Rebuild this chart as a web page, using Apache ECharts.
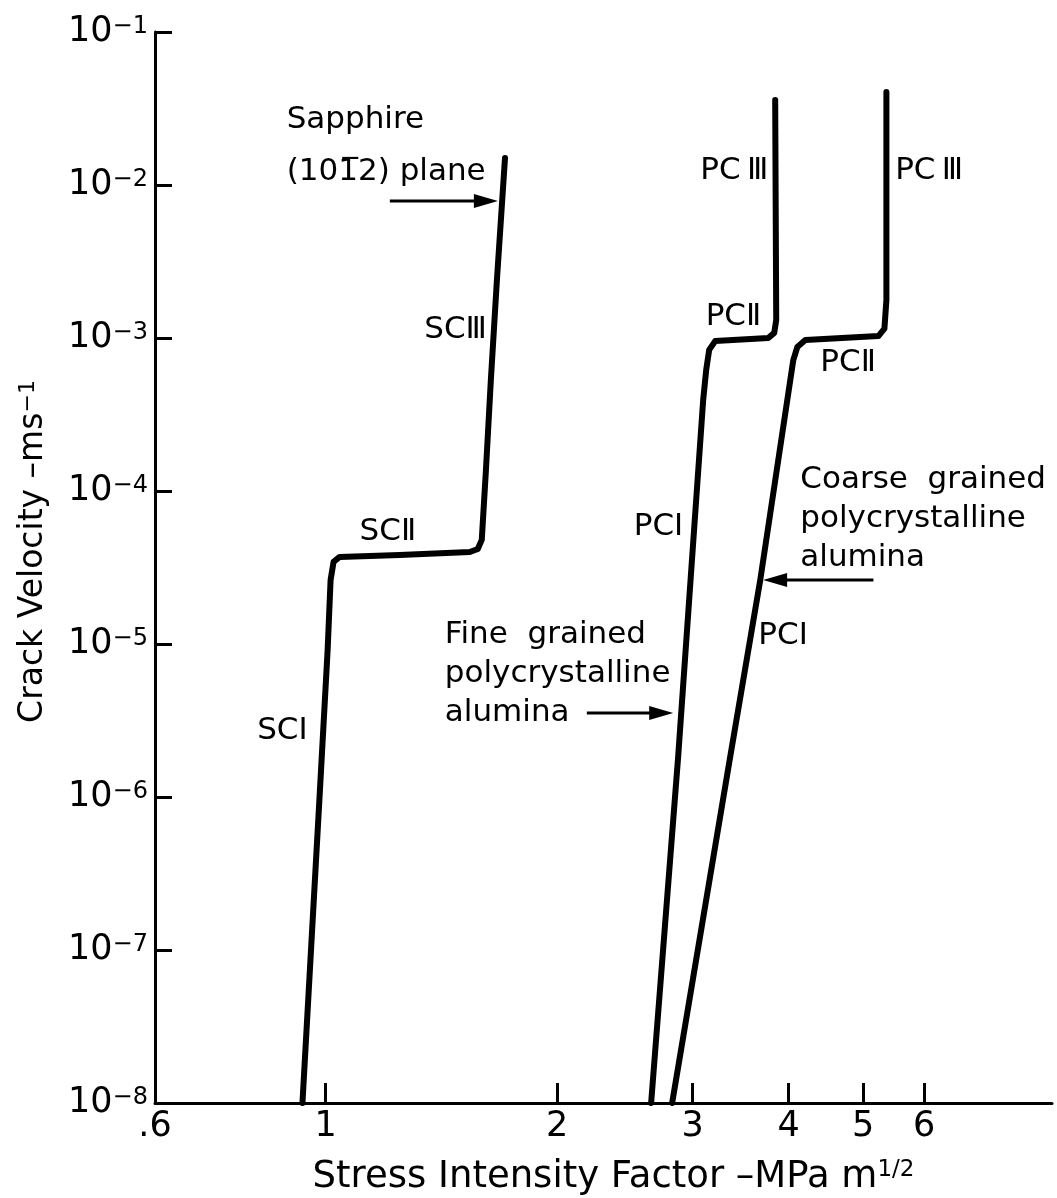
<!DOCTYPE html>
<html>
<head>
<meta charset="utf-8">
<script src="https://cdn.jsdelivr.net/npm/echarts@6/dist/echarts.min.js"></script>
<style>
  html, body { margin: 0; padding: 0; background: #fff; }
  #chart { width: 1057px; height: 1198px; }
</style>
</head>
<body>
<div id="chart"></div>
<script>
const FONT = "'DejaVu Sans', 'Liberation Sans', sans-serif";

// Crack velocity (m/s) against stress intensity factor (MPa m^1/2)
// Sapphire, (10-12) plane
const sapphireK = [0.933, 0.982, 1.006, 1.015, 1.024, 1.043, 1.248, 1.540, 1.577, 1.596, 1.616, 1.640, 1.670, 1.711];
const sapphireV = [1e-8, 1e-6, 9.1e-6, 2.62e-5, 3.44e-5, 3.71e-5, 3.82e-5, 3.99e-5, 4.18e-5, 4.79e-5, 1.37e-4, 5.31e-4, 2.39e-3, 1.5e-2];
// Fine grained polycrystalline alumina
const fineK = [2.650, 2.873, 3.097, 3.125, 3.153, 3.210, 3.763, 3.831, 3.854, 3.842];
const fineV = [1e-8, 1.82e-6, 3.94e-4, 6.18e-4, 8.36e-4, 9.55e-4, 1.0e-3, 1.08e-3, 1.31e-3, 3.6e-2];
// Coarse grained polycrystalline alumina
const coarseK = [2.822, 3.357, 3.674, 3.984, 4.056, 4.105, 4.205, 5.233, 5.328, 5.36, 5.36];
const coarseV = [1e-8, 1.82e-6, 2.62e-5, 3.94e-4, 7.18e-4, 8.73e-4, 9.7e-4, 1.03e-3, 1.15e-3, 1.77e-3, 4.06e-2];

// Axis ticks and labels
const xTickValues = [1, 2, 3, 4, 5, 6];
const xLabelValues = [0.6, 1, 2, 3, 4, 5, 6];
const xLabelText = ['.6', '1', '2', '3', '4', '5', '6'];
const yTickValues = [1e-8, 1e-7, 1e-6, 1e-5, 1e-4, 1e-3, 1e-2, 1e-1];

// Region labels placed in data space [K, v]
const regionLabels = [
  { text: 'Sapphire', at: [0.890, 2.66e-2], align: 'left' },
  { text: '(101\u03052) plane', at: [0.890, 1.22e-2], align: 'left' },
  { text: 'SC\u2162', at: [1.621, 1.13e-3], align: 'right' },
  { text: 'SC\u2161', at: [1.107, 5.4e-5], align: 'left' },
  { text: 'SC\u2160', at: [0.9475, 2.7e-6], align: 'right' },
  { text: 'PC\u2009\u2162', at: [3.763, 1.24e-2], align: 'right' },
  { text: 'PC\u2161', at: [3.685, 1.37e-3], align: 'right' },
  { text: 'PC\u2160', at: [2.917, 5.82e-5], align: 'right' },
  { text: 'PC\u2009\u2162', at: [5.502, 1.24e-2], align: 'left' },
  { text: 'PC\u2161', at: [4.398, 6.87e-4], align: 'left' },
  { text: 'PC\u2160', at: [3.653, 1.13e-5], align: 'left' },
  { text: 'Coarse  grained\npolycrystalline\nalumina', at: [4.142, 6.56e-5], align: 'left' },
  { text: 'Fine  grained\npolycrystalline\nalumina', at: [1.429, 6.37e-6], align: 'left' }
];

// Pointer arrows, tail to head, in data space
const pointerArrows = [
  { from: [1.212, 7.85e-3], to: [1.675, 7.85e-3] },
  { from: [5.156, 2.62e-5], to: [3.706, 2.62e-5] },
  { from: [2.186, 3.54e-6], to: [2.831, 3.54e-6] }
];

const zip = (xs, ys) => xs.map((x, i) => [x, ys[i]]);

const lineSeries = (name, xs, ys) => ({
  name,
  type: 'line',
  data: zip(xs, ys),
  showSymbol: false,
  symbol: 'none',
  smooth: false,
  lineStyle: { color: '#000', width: 6, join: 'round', cap: 'round' }
});

const chart = echarts.init(document.getElementById('chart'), null, { renderer: 'canvas' });

const option = {
  animation: false,
  backgroundColor: '#fff',
  grid: { left: 155, right: 5, top: 32, bottom: 95, containLabel: false, outerBoundsMode: 'none' },
  xAxis: {
    type: 'log',
    logBase: 10,
    min: 0.6,
    max: 8.8,
    name: '{n|Stress Intensity Factor \u2013MPa m}{s|1/2}',
    nameLocation: 'middle',
    nameGap: 56,
    nameTextStyle: {
      padding: [0, 0, 0, 20],
      rich: {
        n: { fontFamily: FONT, fontSize: 37, color: '#000' },
        s: { fontFamily: FONT, fontSize: 23, color: '#000', verticalAlign: 'top' }
      }
    },
    axisLine: { show: true, onZero: false, lineStyle: { color: '#000', width: 3 } },
    axisTick: { show: true, inside: true, length: 20, lineStyle: { color: '#000', width: 3 }, customValues: xTickValues },
    minorTick: { show: false },
    axisLabel: {
      show: true,
      customValues: xLabelValues,
      margin: 6,
      fontFamily: FONT,
      fontSize: 35,
      color: '#000',
      formatter: (v) => {
        let best = 0;
        xLabelValues.forEach((lv, i) => {
          if (Math.abs(lv - v) < Math.abs(xLabelValues[best] - v)) best = i;
        });
        return xLabelText[best];
      }
    },
    splitLine: { show: false }
  },
  yAxis: {
    type: 'log',
    logBase: 10,
    min: 1e-8,
    max: 1e-1,
    name: '{n|Crack Velocity \u2013ms}{s|\u22121}',
    nameLocation: 'middle',
    nameGap: 105,
    nameTextStyle: {
      padding: [0, 0, 0, 32],
      rich: {
        n: { fontFamily: FONT, fontSize: 33, color: '#000' },
        s: { fontFamily: FONT, fontSize: 22, color: '#000', verticalAlign: 'top' }
      }
    },
    axisLine: { show: true, onZero: false, lineStyle: { color: '#000', width: 3 } },
    axisTick: { show: true, inside: true, length: 17, lineStyle: { color: '#000', width: 3 }, customValues: yTickValues },
    minorTick: { show: false },
    axisLabel: {
      show: true,
      customValues: yTickValues,
      margin: 7,
      formatter: (v) => {
        const e = Math.round(Math.log10(v));
        return '{b|10}{s|\u2212' + (-e) + '}';
      },
      rich: {
        b: { fontFamily: FONT, fontSize: 35, color: '#000' },
        s: { fontFamily: FONT, fontSize: 24, color: '#000', verticalAlign: 'top' }
      }
    },
    splitLine: { show: false }
  },
  series: [
    lineSeries('Sapphire', sapphireK, sapphireV),
    lineSeries('Fine grained polycrystalline alumina', fineK, fineV),
    lineSeries('Coarse grained polycrystalline alumina', coarseK, coarseV)
  ]
};

chart.setOption(option);

// Annotation text and arrows, positioned through the axes
const toPx = (pt) => chart.convertToPixel({ xAxisIndex: 0, yAxisIndex: 0 }, pt);

const graphics = [];
regionLabels.forEach((lab) => {
  const p = toPx(lab.at);
  graphics.push({
    type: 'text',
    x: p[0],
    y: p[1],
    silent: true,
    style: {
      text: lab.text,
      fontFamily: FONT,
      fontSize: 31,
      lineHeight: 39,
      fill: '#000',
      align: lab.align,
      verticalAlign: 'middle'
    }
  });
});

pointerArrows.forEach((a) => {
  const p1 = toPx(a.from);
  const p2 = toPx(a.to);
  const dx = p2[0] - p1[0], dy = p2[1] - p1[1];
  const len = Math.hypot(dx, dy);
  const ux = dx / len, uy = dy / len;
  const headLen = 24, headHalf = 7;
  const bx = p2[0] - ux * headLen, by = p2[1] - uy * headLen;
  graphics.push({
    type: 'line',
    silent: true,
    shape: { x1: p1[0], y1: p1[1], x2: bx + ux * 2, y2: by + uy * 2 },
    style: { stroke: '#000', lineWidth: 3 }
  });
  graphics.push({
    type: 'polygon',
    silent: true,
    shape: {
      points: [
        [p2[0], p2[1]],
        [bx - uy * headHalf, by + ux * headHalf],
        [bx + uy * headHalf, by - ux * headHalf]
      ]
    },
    style: { fill: '#000' }
  });
});

chart.setOption({ graphic: graphics });
</script>
</body>
</html>
